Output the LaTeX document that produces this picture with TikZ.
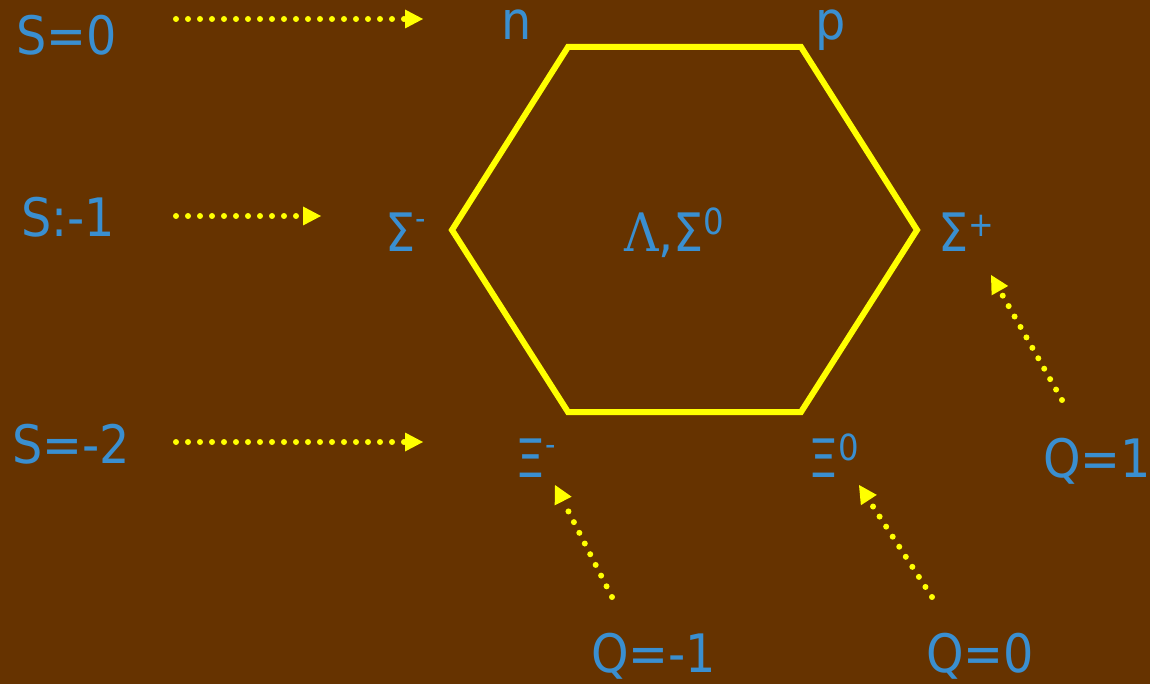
\documentclass[tikz,border=0pt]{standalone}
\usepackage{fontspec}
\setmainfont{DejaVu Sans Condensed}
\newfontfamily\serifgr{DejaVu Serif Condensed}
\usetikzlibrary{arrows.meta}
\definecolor{bg}{HTML}{663300}
\definecolor{lbl}{HTML}{3A8FD0}
\definecolor{yel}{HTML}{FFFF00}
\newcommand{\supm}{\raisebox{22pt}{\fontsize{32}{32}\selectfont -}}
\newcommand{\supz}{\raisebox{17pt}{\fontsize{36}{36}\selectfont 0}}
\newcommand{\supp}{\raisebox{15pt}{\fontsize{34}{34}\selectfont +}}
\begin{document}
\begin{tikzpicture}[x=1pt,y=-1pt,
  lab/.style={text=lbl, inner sep=0pt, anchor=base west, font=\fontsize{53}{62}\selectfont},
  dotarrow/.style={draw=yel, line width=6pt, line cap=round, dash pattern=on 0pt off 12pt,
    -{Triangle[length=18pt,width=19pt,line width=0pt]}},
  hex/.style={draw=yel, line width=6pt, line join=miter}]
\fill[bg] (0,0) rectangle (1150,684);
\useasboundingbox (0,0) rectangle (1150,684);

% hexagon
\draw[hex] (568,47) -- (801,47) -- (917,230) -- (801,412) -- (568,412) -- (452,230) -- cycle;

% labels
\node[lab] (s0) at (16,55) {S=0};
\node[lab] (s1) at (21,237) {S:-1};
\node[lab] (s2) at (12,463) {S=-2};
\node[lab] (n) at (501,40) {n};
\node[lab] (p) at (815,40) {p};
\node[lab] (sigm) at (385,252) {Σ\supm};
\node[lab] (mid) at (624,252) {{\serifgr Λ},Σ\supz};
\node[lab] (sigp) at (938,252) {Σ\supp};
\node[lab] (xim) at (515,477) {Ξ\supm};
\node[lab] (xiz) at (808,477) {Ξ\supz};
\node[lab] (qm) at (591,672) {Q=-1};
\node[lab] (qz) at (926,672) {Q=0};
\node[lab] (qp) at (1043,477) {Q=1};

% arrow end points
\coordinate (a1s) at (176,19);   \coordinate (a1e) at (423,19);
\coordinate (a2s) at (176,216);  \coordinate (a2e) at (321,216);
\coordinate (a3s) at (176,442);  \coordinate (a3e) at (423,442);
\coordinate (q1s) at (1062,400); \coordinate (q1e) at (991,275);
\coordinate (q0s) at (932,597);  \coordinate (q0e) at (859,485);
\coordinate (qms) at (612,597);  \coordinate (qme) at (555,485);

\draw[dotarrow] (a1s) -- (a1e);
\draw[dotarrow] (a2s) -- (a2e);
\draw[dotarrow] (a3s) -- (a3e);
\draw[dotarrow] (q1s) -- (q1e);
\draw[dotarrow] (q0s) -- (q0e);
\draw[dotarrow] (qms) -- (qme);
\end{tikzpicture}
\end{document}
